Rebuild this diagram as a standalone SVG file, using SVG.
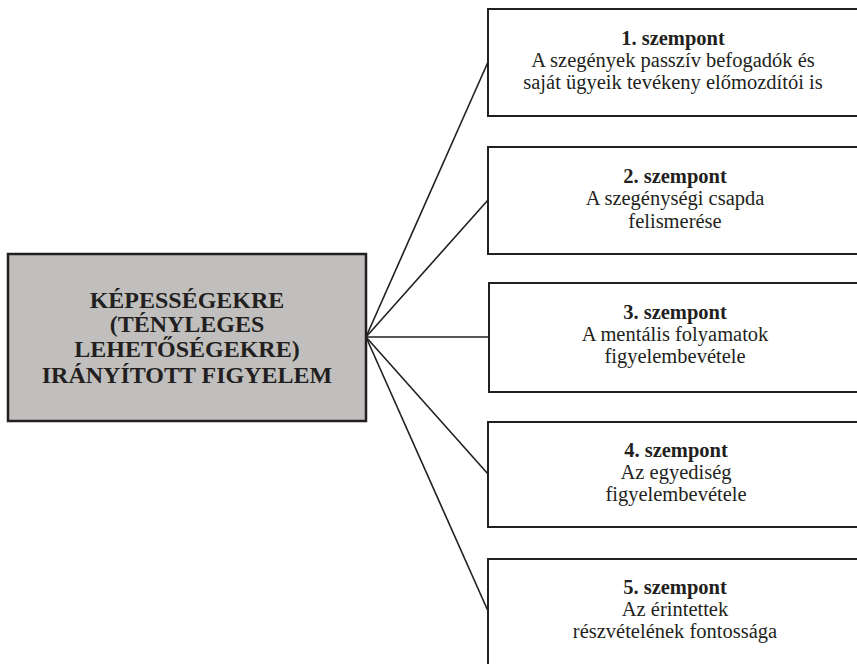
<svg xmlns="http://www.w3.org/2000/svg" width="857" height="664" viewBox="0 0 857 664">
<style>
.box{fill:#ffffff;stroke:#231f20;stroke-width:2}
.main{fill:#c0bfbd;stroke:#231f20;stroke-width:2.5}
.con{stroke:#231f20;stroke-width:1.6;fill:none}
text{font-family:"Liberation Serif","Times New Roman",serif;fill:#231f20;text-anchor:middle}
.t{font-size:20.5px}
.b{font-size:20.5px;font-weight:bold}
.m{font-size:24px;font-weight:bold}
</style>
<rect x="0" y="0" width="857" height="664" fill="#ffffff"/>
<g id="connectors">
<line class="con" x1="366" y1="337" x2="488" y2="62"/>
<line class="con" x1="366" y1="337" x2="488" y2="200"/>
<line class="con" x1="366" y1="337" x2="488" y2="337"/>
<line class="con" x1="366" y1="337" x2="488" y2="474"/>
<line class="con" x1="366" y1="337" x2="488" y2="611"/>
</g>
<g id="main">
<rect class="main" x="8" y="254" width="358" height="167"/>
<text class="m" x="187" y="308">KÉPESSÉGEKRE</text>
<text class="m" x="187" y="332">(TÉNYLEGES</text>
<text class="m" x="187" y="357">LEHETŐSÉGEKRE)</text>
<text class="m" x="187" y="383">IRÁNYÍTOTT FIGYELEM</text>
</g>
<g id="node1">
<rect class="box" x="488" y="9" width="374" height="107"/>
<text class="b" x="673" y="45">1. szempont</text>
<text class="t" x="673" y="67">A szegények passzív befogadók és</text>
<text class="t" x="673" y="89">saját ügyeik tevékeny előmozdítói is</text>
</g>
<g id="node2">
<rect class="box" x="488" y="147" width="374" height="107"/>
<text class="b" x="675" y="183">2. szempont</text>
<text class="t" x="675" y="205">A szegénységi csapda</text>
<text class="t" x="675" y="228">felismerése</text>
</g>
<g id="node3">
<rect class="box" x="489" y="283" width="374" height="109"/>
<text class="b" x="675" y="319">3. szempont</text>
<text class="t" x="675" y="341">A mentális folyamatok</text>
<text class="t" x="675" y="363">figyelembevétele</text>
</g>
<g id="node4">
<rect class="box" x="488" y="422" width="374" height="105"/>
<text class="b" x="676" y="457">4. szempont</text>
<text class="t" x="676" y="479">Az egyediség</text>
<text class="t" x="676" y="501">figyelembevétele</text>
</g>
<g id="node5">
<rect class="box" x="488" y="559" width="374" height="110"/>
<text class="b" x="675" y="594">5. szempont</text>
<text class="t" x="675" y="616">Az érintettek</text>
<text class="t" x="675" y="638">részvételének fontossága</text>
</g>
</svg>
